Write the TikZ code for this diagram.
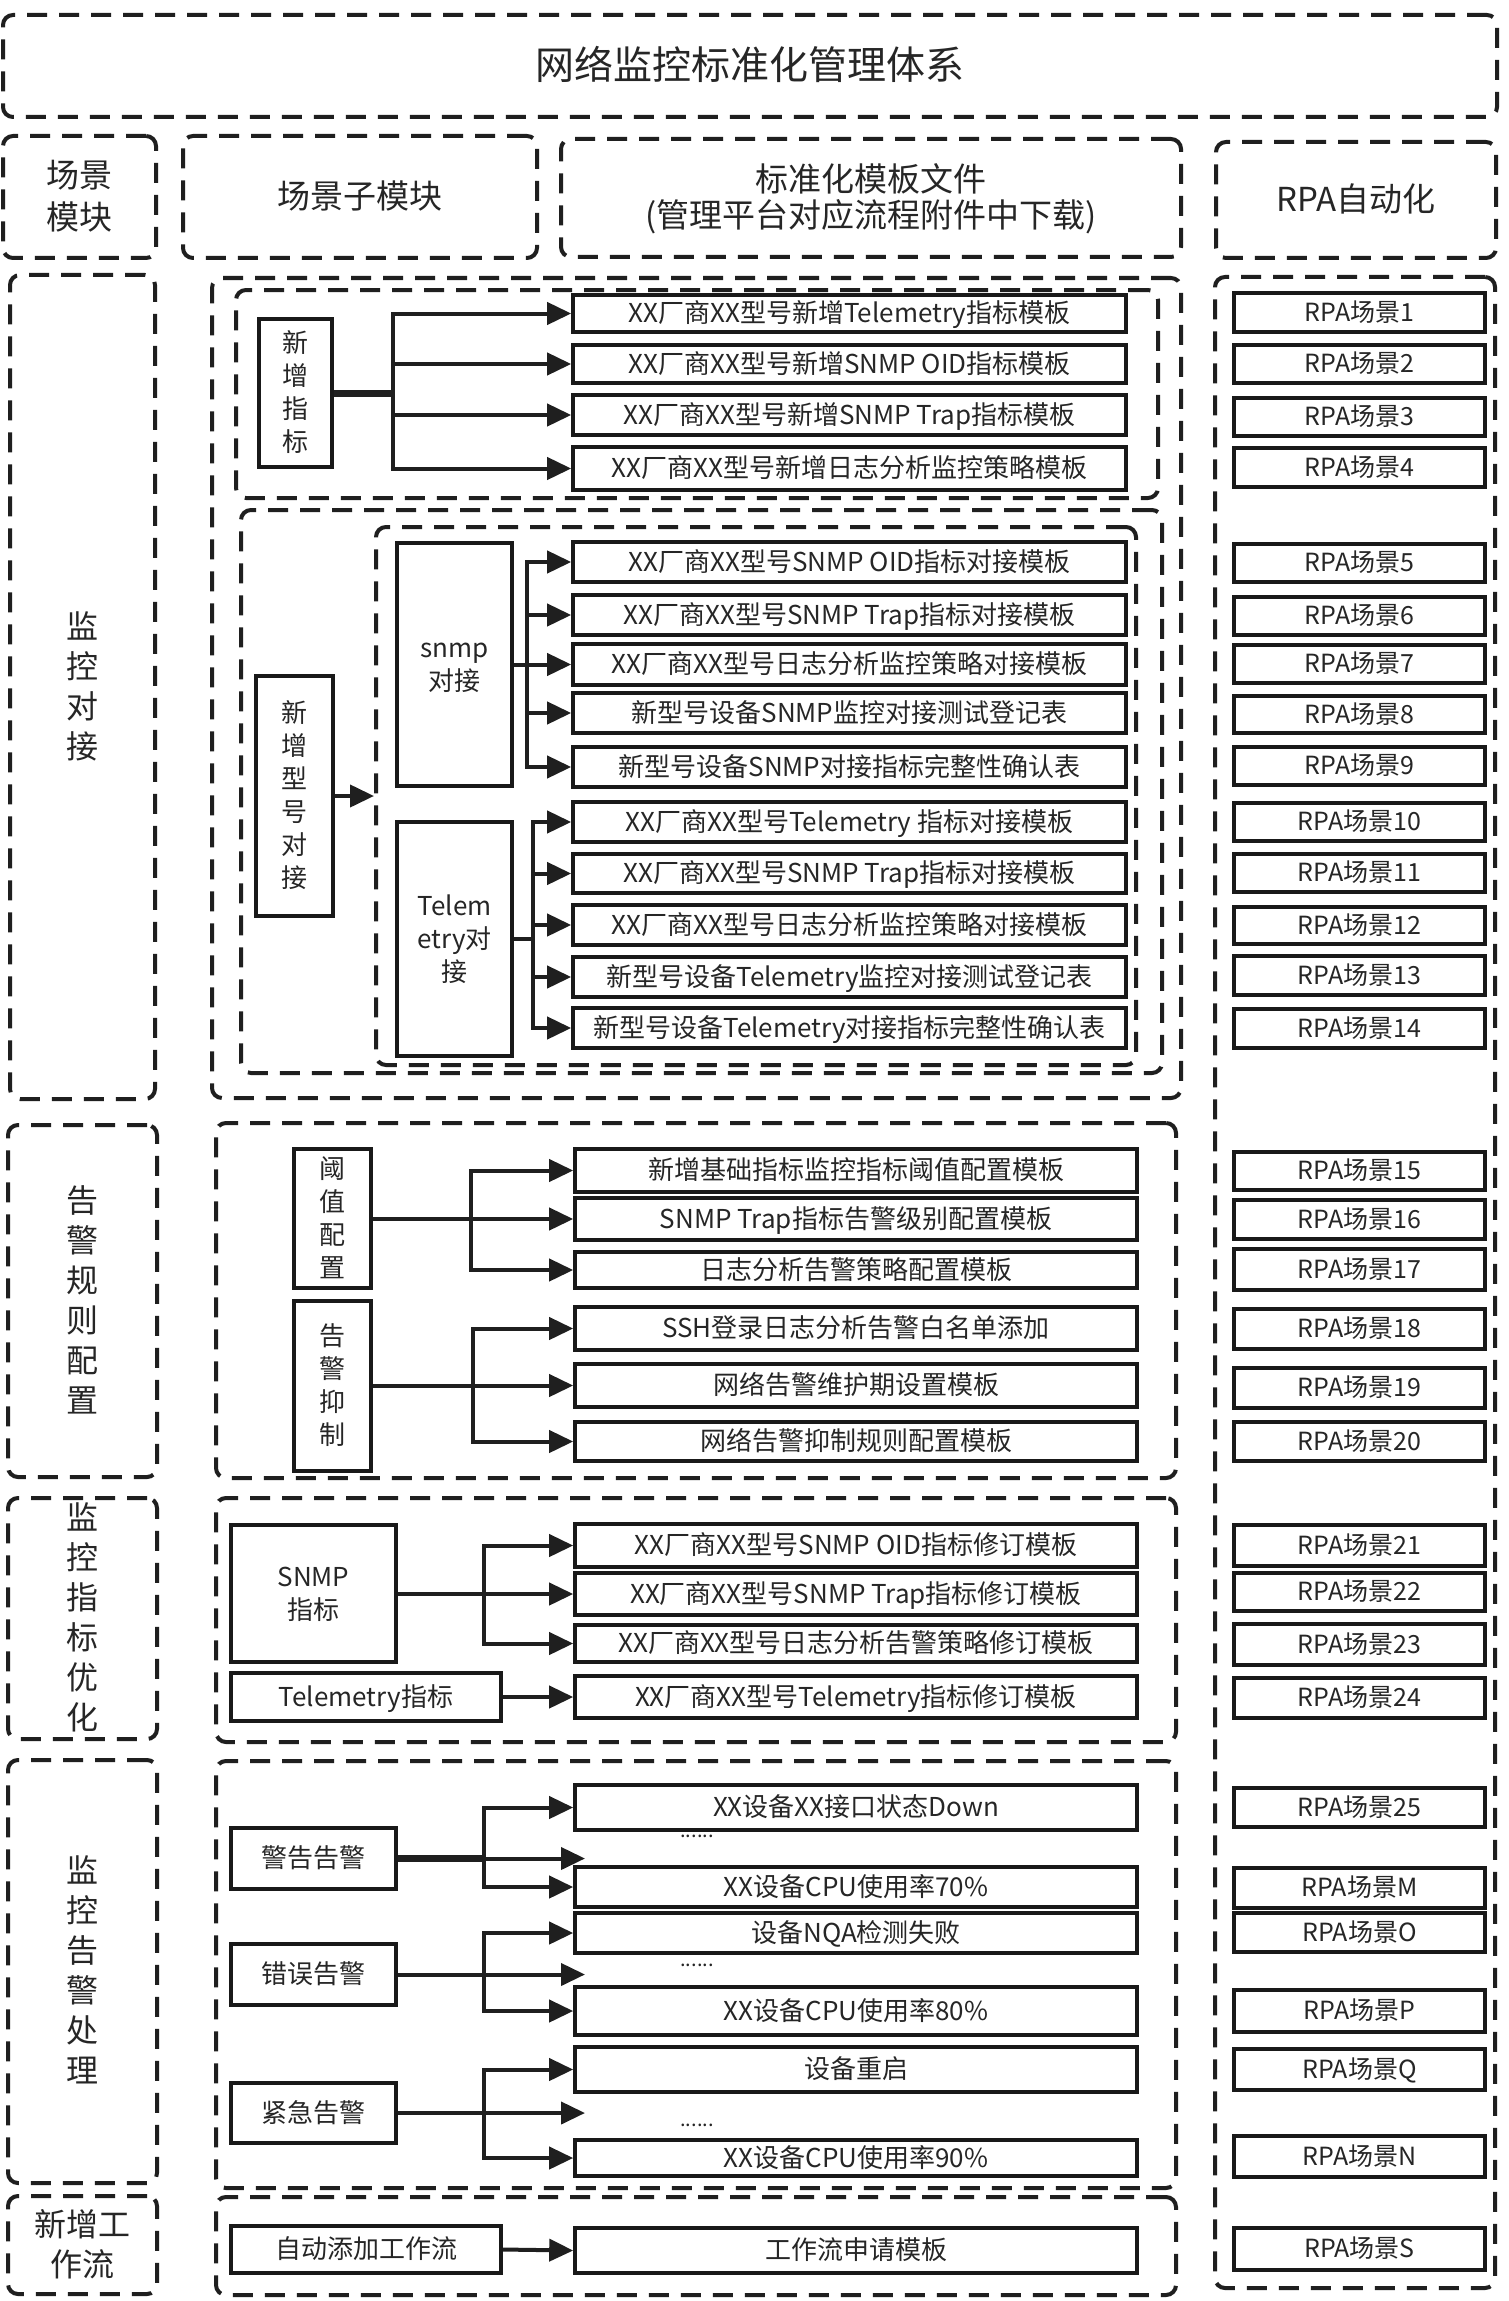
\documentclass[tikz,border=0pt]{standalone}
\usepackage{fontspec}
\setmainfont{Noto Sans CJK SC}
\usetikzlibrary{arrows.meta}
\newcommand{\gline}[1]{\smash{#1}\rule[-0.15em]{0pt}{1em}}
% \mkbox{style}{name}{x1}{y1}{x2}{y2}{text}  (pixel coordinates)
\newcommand{\mkbox}[7]{%
  \pgfmathsetmacro\mkboxw{(#5-#3)/2}%
  \pgfmathsetmacro\mkboxh{(#6-#4)/2}%
  \pgfmathsetmacro\mkboxx{(#3+#5)/2}%
  \pgfmathsetmacro\mkboxy{(#4+#6)/2}%
  \node[#1, minimum width=\mkboxw pt, minimum height=\mkboxh pt, anchor=center] (#2) at (\mkboxx,\mkboxy) {#7};}
\begin{document}
\begin{tikzpicture}[x=0.5pt,y=-0.5pt,
  dbox/.style={draw=black!88, line width=2pt, dash pattern=on 10pt off 6pt, rounded corners=5pt, inner sep=0pt, text=black!85, align=center},
  tbox/.style={draw=black!90, line width=1.8pt, inner sep=0pt, text=black!85, font=\fontsize{13}{16}\selectfont, text height=11pt, text depth=2pt},
  rbox/.style={tbox, line width=1.6pt, font=\fontsize{12.5}{15}\selectfont, text height=10.6pt, text depth=1.9pt},
  subbox/.style={draw=black!90, line width=1.8pt, inner sep=0pt, text=black!85, align=center, font=\fontsize{13}{16.5}\selectfont},
  secfont/.style={font=\fontsize{16}{20}\selectfont},
  hfont/.style={font=\fontsize{16.5}{21}\selectfont},
  ttlfont/.style={font=\fontsize{19.5}{24}\selectfont},
  h3font/.style={font=\fontsize{16.5}{18}\selectfont},
  ln/.style={draw=black!88, line width=2pt},
  stub/.style={draw=black!88, line width=3.5pt},
  arr/.style={draw=black!88, line width=2pt, -{Triangle[length=12pt,width=11pt]}},
  dotlbl/.style={text=black!85, font=\fontsize{10}{12}\selectfont, inner sep=0pt}
]
\useasboundingbox[fill=white] (0,0) rectangle (1509,2301);

% ---------- headers ----------
\mkbox{dbox,ttlfont}{title}{3}{15}{1497}{117}{\gline{网络监控标准化管理体系}}
\mkbox{dbox,hfont}{h1}{3}{136}{156}{258}{\gline{场景}\\\gline{模块}}
\mkbox{dbox,hfont}{h2}{183}{136}{537}{258}{\gline{场景子模块}}
\mkbox{dbox,h3font}{h3}{561}{139}{1181}{257}{\gline{标准化模板文件}\\\gline{(管理平台对应流程附件中下载)}}
\mkbox{dbox,hfont}{h4}{1216}{142}{1496}{258}{\gline{RPA自动化}}

% ---------- left column ----------
\mkbox{dbox,secfont}{m1}{10}{275}{155}{1099}{\gline{监}\\\gline{控}\\\gline{对}\\\gline{接}}
\mkbox{dbox,secfont}{m2}{8}{1125}{157}{1477}{\gline{告}\\\gline{警}\\\gline{规}\\\gline{则}\\\gline{配}\\\gline{置}}
\mkbox{dbox,secfont}{m3}{8}{1498}{157}{1739}{\gline{监}\\\gline{控}\\\gline{指}\\\gline{标}\\\gline{优}\\\gline{化}}
\mkbox{dbox,secfont}{m4}{8}{1760}{157}{2183}{\gline{监}\\\gline{控}\\\gline{告}\\\gline{警}\\\gline{处}\\\gline{理}}
\mkbox{dbox,secfont}{m5}{8}{2196}{157}{2294}{\gline{新增工}\\\gline{作流}}

% ---------- RPA column ----------
\mkbox{dbox}{rpa}{1215}{277}{1495}{2288}{}
\foreach \n/\a/\b in {1/293/332, 2/345/383, 3/398/436, 4/448/487, 5/544/582, 6/597/635,
  7/645/683, 8/696/733, 9/747/785, 10/803/841, 11/854/892, 12/907/944, 13/956/995,
  14/1009/1048, 15/1152/1190, 16/1200/1239, 17/1249/1290, 18/1309/1349, 19/1368/1408,
  20/1422/1461, 21/1525/1566, 22/1573/1611, 23/1624/1665, 24/1678/1718, 25/1788/1827,
  M/1868/1908, O/1913/1952, P/1990/2032, Q/2049/2090, N/2136/2177, S/2228/2270}
  {\mkbox{rbox}{r\n}{1234}{\a}{1485}{\b}{RPA场景\n}}

% ---------- section 1 ----------
\mkbox{dbox}{s1}{212}{278}{1181}{1098}{}
\mkbox{dbox}{g1}{236}{290}{1158}{498}{}
\mkbox{dbox}{g2}{241}{510}{1162}{1073}{}
\mkbox{dbox}{g3}{376}{527}{1136}{1065}{}

\mkbox{subbox}{xzzb}{259}{319}{332}{467}{\gline{新}\\\gline{增}\\\gline{指}\\\gline{标}}
\mkbox{tbox}{a1}{573}{295}{1126}{332}{XX厂商XX型号新增Telemetry指标模板}
\mkbox{tbox}{a2}{573}{345}{1126}{383}{XX厂商XX型号新增SNMP OID指标模板}
\mkbox{tbox}{a3}{573}{395}{1126}{435}{XX厂商XX型号新增SNMP Trap指标模板}
\mkbox{tbox}{a4}{573}{447}{1126}{490}{XX厂商XX型号新增日志分析监控策略模板}
\coordinate (bA) at (393,0);
\draw[stub] (xzzb.east) -- (xzzb.east -| bA);
\foreach \t in {a1,a2,a3,a4} \draw[arr] (xzzb.east -| bA) |- (\t.west);

\mkbox{subbox}{xxdj}{256}{676}{333}{916}{\gline{新}\\\gline{增}\\\gline{型}\\\gline{号}\\\gline{对}\\\gline{接}}
\draw[arr] (xxdj.east) -- (xxdj.east -| g3.west);

\mkbox{subbox}{snmp}{397}{543}{512}{786}{\gline{snmp}\\\gline{对接}}
\mkbox{tbox}{b1}{573}{542}{1126}{582}{XX厂商XX型号SNMP OID指标对接模板}
\mkbox{tbox}{b2}{573}{595}{1126}{635}{XX厂商XX型号SNMP Trap指标对接模板}
\mkbox{tbox}{b3}{573}{644}{1126}{685}{XX厂商XX型号日志分析监控策略对接模板}
\mkbox{tbox}{b4}{573}{693}{1126}{733}{新型号设备SNMP监控对接测试登记表}
\mkbox{tbox}{b5}{573}{747}{1126}{787}{新型号设备SNMP对接指标完整性确认表}
\coordinate (bB) at (527,0);
\draw[ln] (snmp.east) -- (snmp.east -| bB);
\foreach \t in {b1,b2,b3,b4,b5} \draw[arr] (snmp.east -| bB) |- (\t.west);

\mkbox{subbox}{tele}{397}{822}{512}{1056}{\gline{Telem}\\\gline{etry对}\\\gline{接}}
\mkbox{tbox}{c1}{573}{802}{1126}{842}{XX厂商XX型号Telemetry 指标对接模板}
\mkbox{tbox}{c2}{573}{854}{1126}{893}{XX厂商XX型号SNMP Trap指标对接模板}
\mkbox{tbox}{c3}{573}{905}{1126}{945}{XX厂商XX型号日志分析监控策略对接模板}
\mkbox{tbox}{c4}{573}{957}{1126}{997}{新型号设备Telemetry监控对接测试登记表}
\mkbox{tbox}{c5}{573}{1008}{1126}{1048}{新型号设备Telemetry对接指标完整性确认表}
\coordinate (bC) at (533,0);
\draw[ln] (tele.east) -- (tele.east -| bC);
\foreach \t in {c1,c2,c3,c4,c5} \draw[arr] (tele.east -| bC) |- (\t.west);

% ---------- section 2 ----------
\mkbox{dbox}{s2}{216}{1123}{1176}{1478}{}
\mkbox{subbox}{yzpz}{294}{1149}{371}{1288}{\gline{阈}\\\gline{值}\\\gline{配}\\\gline{置}}
\mkbox{subbox}{gjyz}{294}{1301}{371}{1471}{\gline{告}\\\gline{警}\\\gline{抑}\\\gline{制}}
\mkbox{tbox}{d1}{575}{1149}{1137}{1192}{新增基础指标监控指标阈值配置模板}
\mkbox{tbox}{d2}{575}{1198}{1137}{1240}{SNMP Trap指标告警级别配置模板}
\mkbox{tbox}{d3}{575}{1252}{1137}{1288}{日志分析告警策略配置模板}
\mkbox{tbox}{d4}{575}{1307}{1137}{1350}{SSH登录日志分析告警白名单添加}
\mkbox{tbox}{d5}{575}{1364}{1137}{1407}{网络告警维护期设置模板}
\mkbox{tbox}{d6}{575}{1422}{1137}{1461}{网络告警抑制规则配置模板}
\coordinate (bD) at (471,0);
\coordinate (bE) at (473,0);
\draw[ln] (yzpz.east) -- (yzpz.east -| bD);
\foreach \t in {d1,d2,d3} \draw[arr] (yzpz.east -| bD) |- (\t.west);
\draw[ln] (gjyz.east) -- (gjyz.east -| bE);
\foreach \t in {d4,d5,d6} \draw[arr] (gjyz.east -| bE) |- (\t.west);

% ---------- section 3 ----------
\mkbox{dbox}{s3}{216}{1498}{1176}{1742}{}
\mkbox{subbox}{snmpzb}{231}{1525}{396}{1662}{\gline{SNMP}\\\gline{指标}}
\mkbox{subbox}{telezb}{231}{1673}{501}{1721}{\gline{Telemetry指标}}
\mkbox{tbox}{e1}{575}{1524}{1137}{1567}{XX厂商XX型号SNMP OID指标修订模板}
\mkbox{tbox}{e2}{575}{1573}{1137}{1615}{XX厂商XX型号SNMP Trap指标修订模板}
\mkbox{tbox}{e3}{575}{1625}{1137}{1662}{XX厂商XX型号日志分析告警策略修订模板}
\mkbox{tbox}{e4}{575}{1676}{1137}{1718}{XX厂商XX型号Telemetry指标修订模板}
\coordinate (bF) at (484,0);
\draw[ln] (snmpzb.east) -- (snmpzb.east -| bF);
\foreach \t in {e1,e2,e3} \draw[arr] (snmpzb.east -| bF) |- (\t.west);
\draw[arr] (telezb.east) -- (telezb.east -| e4.west);

% ---------- section 4 ----------
\mkbox{dbox}{s4}{216}{1761}{1176}{2188}{}
\mkbox{subbox}{jg}{231}{1828}{396}{1889}{\gline{警告告警}}
\mkbox{subbox}{cw}{231}{1944}{396}{2005}{\gline{错误告警}}
\mkbox{subbox}{jj}{231}{2083}{396}{2143}{\gline{紧急告警}}
\mkbox{tbox}{f1}{575}{1785}{1137}{1830}{XX设备XX接口状态Down}
\mkbox{tbox}{f2}{575}{1867}{1137}{1907}{XX设备CPU使用率70\%}
\mkbox{tbox}{f3}{575}{1913}{1137}{1953}{设备NQA检测失败}
\mkbox{tbox}{f4}{575}{1987}{1137}{2035}{XX设备CPU使用率80\%}
\mkbox{tbox}{f5}{575}{2047}{1137}{2092}{设备重启}
\mkbox{tbox}{f6}{575}{2140}{1137}{2176}{XX设备CPU使用率90\%}
\node[dotlbl] (dt1) at (697,1836) {......};
\node[dotlbl] (dt2) at (697,1965) {......};
\node[dotlbl] (dt3) at (697,2125) {......};
\coordinate (bG) at (484,0);
\coordinate (fx) at (585,0);
\draw[stub] (jg.east) -- (jg.east -| bG);
\draw[arr] (jg.east -| bG) -- (jg.east -| fx);
\foreach \t in {f1,f2} \draw[arr] (jg.east -| bG) |- (\t.west);
\draw[ln] (cw.east) -- (cw.east -| bG);
\draw[arr] (cw.east -| bG) -- (cw.east -| fx);
\foreach \t in {f3,f4} \draw[arr] (cw.east -| bG) |- (\t.west);
\draw[ln] (jj.east) -- (jj.east -| bG);
\draw[arr] (jj.east -| bG) -- (jj.east -| fx);
\foreach \t in {f5,f6} \draw[arr] (jj.east -| bG) |- (\t.west);

% ---------- section 5 ----------
\mkbox{dbox}{s5}{216}{2197}{1176}{2295}{}
\mkbox{subbox}{zdtj}{231}{2226}{501}{2273}{\gline{自动添加工作流}}
\mkbox{tbox}{gzl}{575}{2228}{1137}{2273}{工作流申请模板}
\draw[arr] (zdtj.east) -- (gzl.west);
\end{tikzpicture}
\end{document}
